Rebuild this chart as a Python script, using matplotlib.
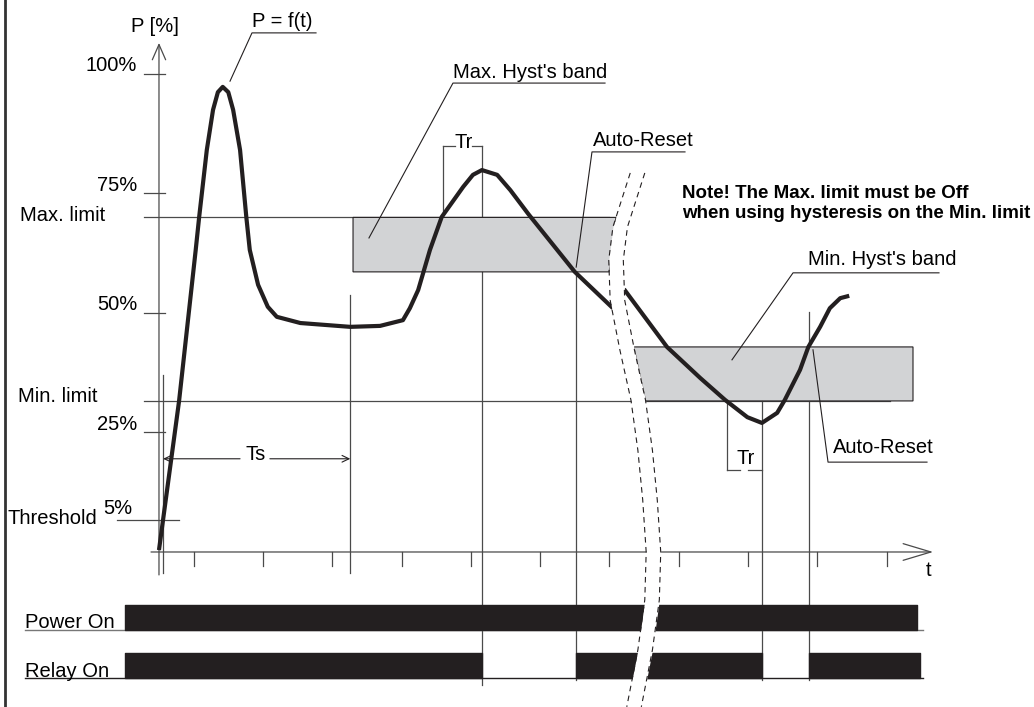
import numpy as np
import matplotlib.pyplot as plt

plt.rcParams['font.family'] = ['Liberation Sans', 'DejaVu Sans']

# P = f(t) curve (t in tick units, P in %), before and after the time break
t1 = [0.0, 0.29, 0.53, 0.58, 0.69, 0.78, 0.85, 0.92, 1.00, 1.07, 1.17, 1.26, 1.31,
      1.43, 1.57, 1.70, 2.04, 2.76, 3.19, 3.52, 3.62, 3.74, 3.91, 4.08, 4.39, 4.53,
      4.66, 4.88, 5.07, 5.33, 6.00, 6.55]
p1 = [0.4, 31.6, 63.2, 70.1, 84.1, 92.5, 96.2, 97.3, 96.2, 92.5, 84.1, 70.1, 63.2,
      55.9, 51.3, 49.2, 47.9, 47.1, 47.3, 48.5, 51.0, 54.8, 63.2, 70.1, 76.4, 78.9,
      79.9, 78.9, 75.7, 70.7, 58.6, 51.0]
t2 = [6.71, 7.33, 7.81, 8.17, 8.49, 8.70, 8.92, 9.03, 9.25, 9.37, 9.54, 9.68, 9.83, 9.96]
p2 = [55.0, 42.9, 36.4, 31.8, 28.2, 27.0, 29.1, 31.8, 38.1, 42.9, 47.1, 51.0, 53.1, 53.6]

# time-break (left dashed line)
break_p = [79.3, 68.0, 61.1, 52.7, 42.3, 31.8, 21.3, 10.9, 0.0, -10.0, -20.5, -32.4]
break_t = [6.80, 6.55, 6.49, 6.51, 6.65, 6.81, 6.91, 6.98, 7.03, 7.01, 6.91, 6.75]

# levels
tick_levels = [100, 75, 50, 25]
tick_labels = ['100%', '75%', '50%', '25%']
threshold_pos = 6.7
max_limit, max_band_low = 70.0, 58.6
min_limit, min_band_high = 31.6, 42.9
time_ticks = [0.5, 1.5, 2.5, 3.5, 4.5, 5.5, 6.5, 7.5, 8.5, 9.5, 10.5]

# events on the time axis
t_ts_start, t_ts_end = 0.06, 2.76
t_tr1, t_trip1, t_reset1 = 4.10, 4.66, 6.02
t_tr2, t_trip2, t_reset2 = 8.20, 8.70, 9.38
max_band_start, min_band_end = 2.80, 10.88

power_on = [(-0.49, 10.94)]
relay_on = [(-0.49, 4.66), (6.02, 8.70), (9.38, 10.98)]

grey = '#4a4a4a'
dark = '#231f20'
band = '#d2d3d5'
fs = 14.5
gap = 0.21

fig = plt.figure(figsize=(10.34, 7.07), dpi=100)
ax = fig.add_axes([0, 0, 1, 1])
ax.set_xlim(-2.294, 12.626)
ax.set_ylim(-32.43, 115.48)
ax.axis('off')

# left frame line
ax.plot([-2.222, -2.222], [-32.43, 115.48], color='#333333', lw=2)

# axes
ax.annotate('', xy=(0, 106.5), xytext=(0, -4.8),
            arrowprops=dict(arrowstyle='->,head_length=0.55,head_width=0.24',
                            color=grey, lw=0.9, mutation_scale=20, shrinkA=0, shrinkB=0))
ax.annotate('', xy=(11.17, 0), xytext=(-0.115, 0),
            arrowprops=dict(arrowstyle='->,head_length=1.0,head_width=0.3',
                            color=grey, lw=0.9, mutation_scale=20, shrinkA=0, shrinkB=0))
for tt in time_ticks:
    ax.plot([tt, tt], [0, -2.9], color=grey, lw=0.9)
ax.text(11.11, -3.8, 't', fontsize=fs, ha='center', va='center')
ax.text(-0.06, 110.0, 'P [%]', fontsize=fs, ha='center', va='center')

for lev, lab in zip(tick_levels, tick_labels):
    ax.plot([-0.216, 0.087], [lev, lev], color=grey, lw=0.9)
    ax.text(-0.317, lev + 0.6, lab, fontsize=fs, ha='right', va='baseline')
ax.plot([-0.606, 0.289], [threshold_pos, threshold_pos], color=grey, lw=0.9)
ax.text(-2.18, 7.1, 'Threshold', fontsize=fs, ha='left', va='center')
ax.text(-0.81, 9.0, '5%', fontsize=fs, ha='left', va='center')

# limits and hysteresis bands
ax.plot([-0.216, 6.5], [max_limit, max_limit], color=grey, lw=0.9, zorder=1)
ax.plot([-0.216, 10.55], [min_limit, min_limit], color=grey, lw=0.9, zorder=1)
ax.text(-2.006, 70.5, 'Max. limit', fontsize=fs, ha='left', va='center')
ax.text(-2.035, 32.6, 'Min. limit', fontsize=fs, ha='left', va='center')

bp_rev = break_p[::-1]
bt_rev = break_t[::-1]
mx_r_top = np.interp(max_limit, bp_rev, bt_rev)
mx_r_bot = np.interp(max_band_low, bp_rev, bt_rev)
ax.fill([max_band_start, max_band_start, mx_r_top, mx_r_bot],
        [max_band_low, max_limit, max_limit, max_band_low],
        facecolor=band, edgecolor=dark, lw=0.8, zorder=2)
mn_l_top = np.interp(min_band_high, bp_rev, bt_rev) + gap
mn_l_bot = np.interp(min_limit, bp_rev, bt_rev) + gap
ax.fill([mn_l_bot, mn_l_top, min_band_end, min_band_end],
        [min_limit, min_band_high, min_band_high, min_limit],
        facecolor=band, edgecolor=dark, lw=0.8, zorder=2)

# vertical markers
vl = dict(color=grey, lw=0.9, zorder=1)
ax.plot([t_ts_start, t_ts_start], [37.0, -4.4], **vl)
ax.plot([t_ts_end, t_ts_end], [53.8, -4.4], **vl)
ax.plot([t_tr1, t_tr1], [84.9, 66.9], **vl)
ax.plot([t_trip1, t_trip1], [84.9, -27.8], **vl)
ax.plot([t_reset1, t_reset1], [60.7, -26.8], **vl)
ax.plot([t_tr2, t_tr2], [33.7, 17.2], **vl)
ax.plot([t_trip2, t_trip2], [33.7, -26.8], **vl)
ax.plot([t_reset2, t_reset2], [50.2, -26.8], **vl)

# Tr brackets
ax.plot([t_tr1, 4.27], [84.9, 84.9], **vl)
ax.plot([4.52, t_trip1], [84.9, 84.9], **vl)
ax.text(4.39, 85.6, 'Tr', fontsize=fs, ha='center', va='center')
ax.plot([t_tr2, 8.38], [17.2, 17.2], **vl)
ax.plot([8.50, t_trip2], [17.2, 17.2], **vl)
ax.text(8.47, 19.5, 'Tr', fontsize=fs, ha='center', va='center')

# Ts arrow
ts_p = 19.5
for a, b in [(t_ts_start, 1.17), (t_ts_end, 1.60)]:
    ax.annotate('', xy=(a, ts_p), xytext=(b, ts_p),
                arrowprops=dict(arrowstyle='->,head_length=0.25,head_width=0.12',
                                color=dark, lw=0.8, mutation_scale=20, shrinkA=0, shrinkB=0))
ax.text(1.40, 20.3, 'Ts', fontsize=fs, ha='center', va='center')

# callouts
ld = dict(color=dark, lw=0.8, zorder=3)
ax.plot([1.025, 1.342, 2.266], [98.5, 108.6, 108.6], **ld)
ax.text(1.342, 110.9, 'P = f(t)', fontsize=fs, ha='left', va='center')
ax.plot([3.03, 4.242, 6.436], [65.7, 98.1, 98.1], **ld)
ax.text(4.242, 100.4, "Max. Hyst's band", fontsize=fs, ha='left', va='center')
ax.plot([6.02, 6.248, 7.59], [59.6, 83.7, 83.7], **ld)
ax.text(6.263, 86.0, 'Auto-Reset', fontsize=fs, ha='left', va='center')
ax.plot([8.268, 9.149, 11.255], [40.2, 58.4, 58.4], **ld)
ax.text(9.365, 61.2, "Min. Hyst's band", fontsize=fs, ha='left', va='center')
ax.plot([9.437, 9.654, 11.082], [42.3, 18.8, 18.8], **ld)
ax.text(9.726, 21.9, 'Auto-Reset', fontsize=fs, ha='left', va='center')

ax.text(7.547, 74.9, 'Note! The Max. limit must be Off', fontsize=13.5,
        fontweight='bold', ha='left', va='center')
ax.text(7.547, 70.9, 'when using hysteresis on the Min. limit', fontsize=13.5,
        fontweight='bold', ha='left', va='center')

# P = f(t)
ax.plot(t1, p1, color=dark, lw=3, solid_capstyle='butt', solid_joinstyle='round', zorder=4)
ax.plot(t2, p2, color=dark, lw=3, solid_capstyle='butt', solid_joinstyle='round', zorder=4)

# Power / relay bars
ax.plot([-1.934, 11.02], [-16.3, -16.3], color='#777777', lw=1, zorder=2)
ax.plot([-1.934, 11.02], [-26.4, -26.4], color=dark, lw=1, zorder=2)
ax.broken_barh([(a, b - a) for a, b in power_on], (-16.3, 5.2), color=dark, zorder=3)
ax.broken_barh([(a, b - a) for a, b in relay_on], (-26.4, 5.3), color=dark, zorder=3)
ax.text(-1.934, -16.0, 'Power On', fontsize=fs, ha='left', va='baseline')
ax.text(-1.934, -26.1, 'Relay On', fontsize=fs, ha='left', va='baseline')

# time break
bt = np.array(break_t)
ax.fill_betweenx(break_p, bt, bt + gap, color='white', zorder=5, lw=0)
ax.plot(bt, break_p, color=dark, lw=0.8, dashes=(5, 4), zorder=6)
ax.plot(bt + gap, break_p, color=dark, lw=0.8, dashes=(5, 4), zorder=6)

fig.savefig('out.png', dpi=100)
